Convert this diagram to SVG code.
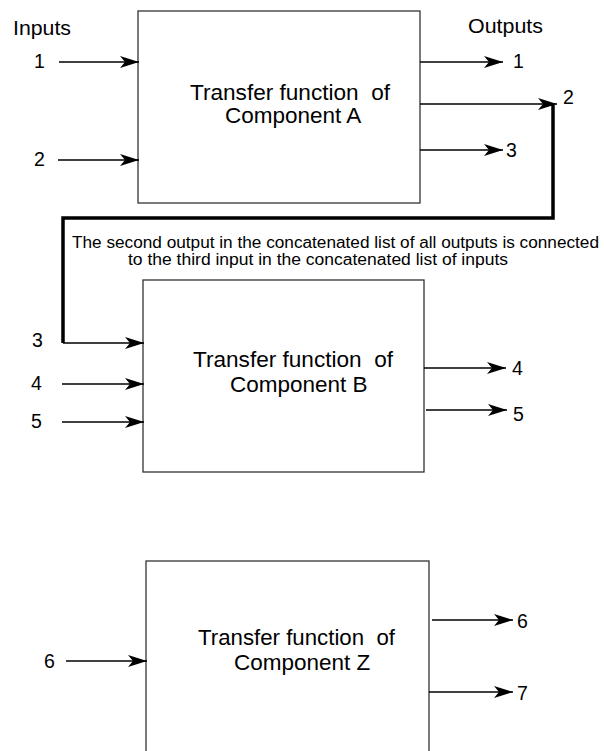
<svg xmlns="http://www.w3.org/2000/svg" width="604" height="751" viewBox="0 0 604 751">
<style>
text{font-family:"Liberation Sans",Arial,sans-serif;fill:#000}
.lbl{font-size:19.5px}
.hd{font-size:21px}
.box{fill:#fff;stroke:#333;stroke-width:1.3}
.bt{font-size:22.5px}
.cap{font-size:16px}
.ar{stroke:#000;stroke-width:1.3;fill:none;marker-end:url(#ah)}
.thick{stroke:#000;stroke-width:3.5;fill:none}
</style>
<defs>
<marker id="ah" markerUnits="userSpaceOnUse" markerWidth="19" markerHeight="12" refX="19" refY="6" orient="auto" viewBox="0 0 19 12">
<path d="M0,0 L19,6 L0,12 L5,6 z" fill="#000"/>
</marker>
</defs>
<text class="hd" x="13" y="35" textLength="58" lengthAdjust="spacingAndGlyphs">Inputs</text>
<text class="hd" x="468" y="33" textLength="75" lengthAdjust="spacingAndGlyphs">Outputs</text>
<g id="compA">
<rect class="box" x="138" y="11" width="282" height="192"/>
<text class="bt" x="190" y="100" textLength="200" lengthAdjust="spacingAndGlyphs" xml:space="preserve">Transfer function  of</text>
<text class="bt" x="225" y="123">Component A</text>
</g>
<g id="compB">
<rect class="box" x="143" y="280" width="281" height="192"/>
<text class="bt" x="193" y="367" textLength="200" lengthAdjust="spacingAndGlyphs" xml:space="preserve">Transfer function  of</text>
<text class="bt" x="230" y="392">Component B</text>
</g>
<g id="compZ">
<rect class="box" x="146" y="561" width="283" height="194"/>
<text class="bt" x="198" y="645" textLength="197" lengthAdjust="spacingAndGlyphs" xml:space="preserve">Transfer function  of</text>
<text class="bt" x="234" y="670">Component Z</text>
</g>
<g id="labels">
<text class="lbl" x="34" y="68">1</text>
<text class="lbl" x="34" y="166">2</text>
<text class="lbl" x="513" y="68">1</text>
<text class="lbl" x="563" y="104">2</text>
<text class="lbl" x="506" y="157">3</text>
<text class="lbl" x="32" y="347">3</text>
<text class="lbl" x="31" y="390">4</text>
<text class="lbl" x="31" y="428">5</text>
<text class="lbl" x="512" y="375">4</text>
<text class="lbl" x="513" y="421">5</text>
<text class="lbl" x="44" y="668">6</text>
<text class="lbl" x="517" y="628">6</text>
<text class="lbl" x="517" y="700">7</text>
</g>
<text class="cap" x="72" y="248" textLength="527" lengthAdjust="spacingAndGlyphs">The second output in the concatenated list of all outputs is connected</text>
<text class="cap" x="128" y="265" textLength="380" lengthAdjust="spacingAndGlyphs">to the third input in the concatenated list of inputs</text>
<g id="connectors">
<line class="ar" x1="59" y1="62" x2="139" y2="62"/>
<line class="ar" x1="58" y1="160" x2="139" y2="160"/>
<line class="ar" x1="420" y1="62" x2="503" y2="62"/>
<line class="ar" x1="420" y1="104" x2="557" y2="104"/>
<line class="ar" x1="420" y1="150" x2="503" y2="150"/>
<path class="thick" d="M553,105 V218 H63 V343"/>
<line class="ar" x1="63" y1="343" x2="144" y2="343"/>
<line class="ar" x1="62" y1="384" x2="144" y2="384"/>
<line class="ar" x1="62" y1="422" x2="144" y2="422"/>
<line class="ar" x1="424" y1="368" x2="506" y2="368"/>
<line class="ar" x1="426" y1="410" x2="507" y2="410"/>
<line class="ar" x1="66" y1="661" x2="147" y2="661"/>
<line class="ar" x1="432" y1="620" x2="513" y2="620"/>
<line class="ar" x1="429" y1="692" x2="513" y2="692"/>
</g>
</svg>
